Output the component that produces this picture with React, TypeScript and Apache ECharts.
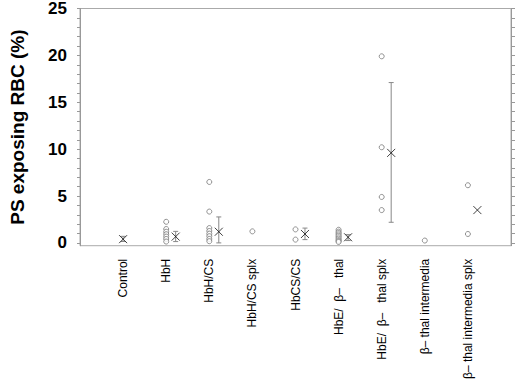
import React, { useEffect, useRef } from "react";
import * as echarts from "echarts";

const categories = [
  "Control",
  "HbH",
  "HbH/CS",
  "HbH/CS splx",
  "HbCS/CS",
  "HbE/  β–   thal",
  "HbE/  β–   thal splx",
  "β– thal intermedia",
  "β– thal intermedia splx",
];

// individual patient values per category (PS exposing RBC, %)
const individualValues: number[][] = [
  [],
  [2.25, 1.48, 1.19, 0.92, 0.67, 0.42, 0.14],
  [6.5, 3.34, 1.58, 1.27, 0.98, 0.71, 0.42, 0.18],
  [1.23],
  [1.44, 0.35],
  [1.4, 1.2, 1.05, 0.9, 0.75, 0.6, 0.45, 0.3, 0.2, 0.1],
  [19.9, 10.2, 4.9, 3.5],
  [0.25],
  [6.15, 0.95],
];

const meanValues: (number | null)[] = [0.4, 0.67, 1.19, null, 0.95, 0.6, 9.6, null, 3.5];
const errLow: (number | null)[] = [0.15, 0.14, 0, null, 0.35, 0.25, 2.2, null, null];
const errHigh: (number | null)[] = [0.7, 1.23, 2.77, null, 1.58, 0.88, 17.1, null, null];

const yLabelValues = [0, 5, 10, 15, 20, 25];
const yTickValues = Array.from({ length: 26 }, (_, i) => i);

const FONT = "'Liberation Sans', Arial, sans-serif";
const MEAN_OFFSET = 0.22;

export default function App() {
  const ref = useRef<HTMLDivElement>(null);
  useEffect(() => {
    if (!ref.current) return;
    const chart = echarts.init(ref.current, null, { renderer: "svg" });

    const pointData: number[][] = [];
    individualValues.forEach((vals, i) => vals.forEach((v) => pointData.push([i + 1, v])));
    const meanData: number[][] = [];
    const errData: number[][] = [];
    meanValues.forEach((m, i) => {
      if (m === null) return;
      const x = i === 0 ? i + 1 : i + 1 + MEAN_OFFSET;
      meanData.push([x, m]);
      if (errLow[i] !== null && errHigh[i] !== null) errData.push([x, errLow[i] as number, errHigh[i] as number]);
    });

    chart.setOption({
      animation: false,
      grid: {
        left: 78,
        right: 9,
        top: 7,
        bottom: 135,
        show: true,
        borderColor: "#aaa",
        borderWidth: 1,
      },
      xAxis: {
        type: "value",
        min: 0,
        max: 10,
        interval: 1,
        splitLine: { show: false },
        axisLine: { show: false },
        axisTick: { show: false },
        axisLabel: {
          rotate: 90,
          margin: 13,
          fontSize: 12,
          fontFamily: FONT,
          color: "#000",
          formatter: (v: number) => (v >= 1 && v <= 9 ? categories[v - 1] : ""),
        },
      },
      yAxis: [
        {
          type: "value",
          min: -0.3,
          max: 25,
          name: "PS exposing RBC (%)",
          nameLocation: "middle",
          nameGap: 53,
          nameTextStyle: { fontSize: 19, fontWeight: "bold", fontFamily: FONT, color: "#000" },
          splitLine: { show: false },
          axisLine: { show: true, lineStyle: { color: "#999" } },
          axisTick: { show: true, length: 3, customValues: yTickValues, lineStyle: { color: "#999" } },
          axisLabel: {
            customValues: yLabelValues,
            margin: 13,
            fontSize: 17,
            fontWeight: "bold",
            fontFamily: FONT,
            color: "#000",
          },
        },
        {
          type: "value",
          position: "right",
          min: -0.3,
          max: 25,
          splitLine: { show: false },
          axisLine: { show: true, lineStyle: { color: "#999" } },
          axisTick: { show: true, length: 4, customValues: yTickValues, lineStyle: { color: "#999" } },
          axisLabel: { show: false },
        },
      ],
      series: [
        {
          type: "custom",
          name: "sd",
          data: errData,
          encode: { x: 0, y: [1, 2] },
          renderItem: (params: any, api: any) => {
            const x = api.value(0);
            const lo = api.coord([x, api.value(1)]);
            const hi = api.coord([x, api.value(2)]);
            const style = { stroke: "#888", lineWidth: 1 };
            return {
              type: "group",
              children: [
                { type: "line", shape: { x1: lo[0], y1: lo[1], x2: hi[0], y2: hi[1] }, style },
                { type: "line", shape: { x1: hi[0] - 2.5, y1: hi[1], x2: hi[0] + 2.5, y2: hi[1] }, style },
                { type: "line", shape: { x1: lo[0] - 2.5, y1: lo[1], x2: lo[0] + 2.5, y2: lo[1] }, style },
              ],
            };
          },
          z: 1,
        },
        {
          type: "scatter",
          name: "individual",
          data: pointData,
          symbol: "circle",
          symbolSize: 5,
          itemStyle: { color: "#fff", borderColor: "#777", borderWidth: 1 },
          z: 2,
        },
        {
          type: "scatter",
          name: "mean",
          data: meanData,
          symbol: "path://M0,0L10,10M10,0L0,10",
          symbolSize: 8,
          itemStyle: { color: "none", borderColor: "#111", borderWidth: 1 },
          z: 3,
        },
      ],
    });
    return () => chart.dispose();
  }, []);
  return (
    <div
      ref={ref}
      style={{ position: "fixed", left: 0, top: 0, width: 520, height: 382, background: "#fff" }}
    />
  );
}
